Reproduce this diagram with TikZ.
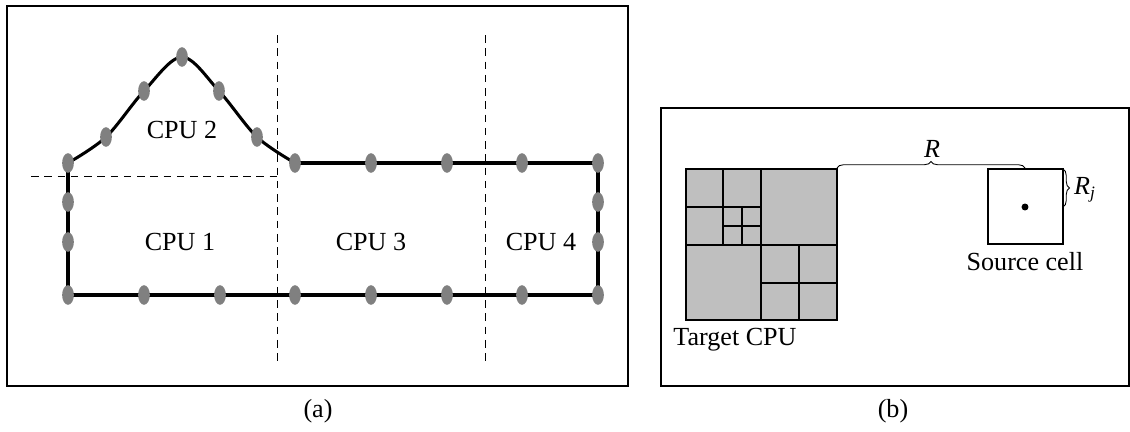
\documentclass[tikz,border=0pt]{standalone}
\usepackage{fontspec}
\setmainfont{Liberation Serif}
\usetikzlibrary{shapes.geometric,decorations.pathreplacing}
\tikzset{
    vtx/.style={ellipse, fill=gray, inner sep=0pt, minimum width=5.4pt, minimum height=9pt},
    bnd/.style={line width=1.4pt},
    cut/.style={dash pattern=on 3.5pt off 2.6pt, line width=0.4pt},
    cell/.style={draw, line width=0.6pt},
    lbl/.style={font=\fontsize{12}{14}\selectfont}
}
\begin{document}
\begin{tikzpicture}[x=0.46pt, y=-0.46pt]
    \useasboundingbox (0,0) rectangle (1130,432);

    % Frames
    \draw[line width=0.7pt] (7,6) rectangle (628,386);
    \draw[line width=0.7pt] (661,108) rectangle (1129,386);

    % Domain cuts
    \draw[cut] (277,35) -- (277,362);
    \draw[cut] (485,35) -- (485,362);
    \draw[cut] (31,176) -- (277,176);

    % Boundary
    \draw[bnd] plot[smooth, tension=0.55] coordinates
        {(68,163) (106,137) (144,91) (182,57) (219,91) (257,137) (295,163)};
    \draw[bnd] (295,163) -- (598,163) -- (598,295) -- (68,295) -- (68,163);

    % Boundary points
    \foreach \n/\p in {c1/{(68,163)}, c2/{(106,137)}, c3/{(144,91)}, c4/{(182,57)},
                       c5/{(219,91)}, c6/{(257,137)}, t1/{(295,163)}, t2/{(371,163)},
                       t3/{(447,163)}, t4/{(522,163)}, t5/{(598,163)}, r1/{(598,202)},
                       r2/{(598,242)}, b1/{(68,295)}, b2/{(144,295)}, b3/{(220,295)},
                       b4/{(295,295)}, b5/{(371,295)}, b6/{(447,295)}, b7/{(522,295)},
                       b8/{(598,295)}, l1/{(68,202)}, l2/{(68,242)}}
        \node[vtx] (\n) at \p {};

    % Labels for CPUs
    \node[lbl] (cpu2) at (182,130) {CPU 2};
    \node[lbl] (cpu1) at (180,242) {CPU 1};
    \node[lbl] (cpu3) at (371,242) {CPU 3};
    \node[lbl] (cpu4) at (541,242) {CPU 4};

    % Target CPU tree
    \fill[gray!50] (686,169) rectangle (837,320);
    \draw[cell] (686,169) rectangle (837,320);
    \draw[cell] (761,169) -- (761,320);
    \draw[cell] (686,245) -- (837,245);
    \draw[cell] (723,169) -- (723,245);
    \draw[cell] (686,207) -- (761,207);
    \draw[cell] (742,207) -- (742,245);
    \draw[cell] (723,226) -- (761,226);
    \draw[cell] (799,245) -- (799,320);
    \draw[cell] (761,283) -- (837,283);
    \node[lbl] (target) at (735,340) {Target CPU};

    % Source cell
    \draw[cell] (988,169) rectangle (1063,244);
    \fill (1025,207) circle (1.6pt);
    \node[lbl] (source) at (1025,262) {Source cell};

    % Distances
    \draw[decorate, decoration={brace, amplitude=3pt}, line width=0.4pt]
        (837,168) -- (1025,168);
    \node[lbl] (dist) at (932,149) {\textit{R}};
    \draw[decorate, decoration={brace, amplitude=3pt}, line width=0.4pt]
        (1063,169) -- (1063,207);
    \node[lbl] (rad) at (1085,190) {\textit{R}\textsubscript{\textit{j}}};

    % Captions
    \node[lbl] (capa) at (318,411) {(a)};
    \node[lbl] (capb) at (893,411) {(b)};
\end{tikzpicture}
\end{document}
